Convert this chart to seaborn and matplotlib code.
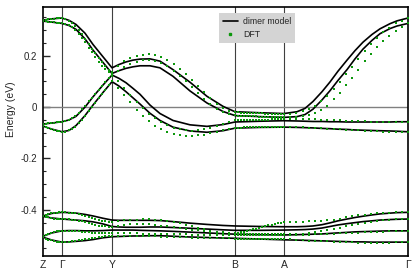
import numpy as np
import pandas as pd
import matplotlib
matplotlib.use('Agg')
import matplotlib.pyplot as plt
from matplotlib.lines import Line2D
from matplotlib.ticker import MultipleLocator
import seaborn as sns

# high-symmetry points along the path (path length units)
sym_k = [0, 19, 69, 192, 241, 365]
sym_labels = ['Z', 'Γ', 'Y', 'B', 'A', 'Γ']

# k grid for the dimer model curves
k_model = [0, 9, 19, 26, 33, 42, 50, 60, 69, 76, 83, 90, 97, 107, 117, 130, 147, 164,
           180, 192, 217, 241, 254, 262, 270, 279, 287, 295, 304, 312, 320, 329, 337,
           347, 354, 365]

model_b1 = [-0.074, -0.086, -0.096, -0.091, -0.072, -0.033, 0.008, 0.057, 0.099, 0.082,
            0.060, 0.036, 0.012, -0.024, -0.052, -0.078, -0.093, -0.098, -0.092, -0.082,
            -0.079, -0.078, -0.079, -0.080, -0.081, -0.083, -0.084, -0.086, -0.087, -0.089,
            -0.090, -0.091, -0.092, -0.093, -0.094, -0.096]
model_b2 = [-0.066, -0.062, -0.057, -0.050, -0.036, 0.000, 0.040, 0.086, 0.125, 0.112,
            0.095, 0.073, 0.050, 0.008, -0.025, -0.052, -0.069, -0.075, -0.068, -0.058,
            -0.055, -0.053, -0.054, -0.055, -0.056, -0.056, -0.057, -0.057, -0.058, -0.058,
            -0.058, -0.058, -0.058, -0.058, -0.057, -0.057]
model_b3 = [0.335, 0.331, 0.326, 0.318, 0.303, 0.266, 0.222, 0.174, 0.131, 0.142,
            0.151, 0.157, 0.161, 0.161, 0.153, 0.120, 0.063, 0.016, -0.017, -0.033,
            -0.037, -0.040, -0.037, -0.029, -0.008, 0.028, 0.064, 0.104, 0.146, 0.188,
            0.226, 0.260, 0.286, 0.306, 0.316, 0.326]
model_b4 = [0.339, 0.344, 0.347, 0.338, 0.322, 0.288, 0.244, 0.196, 0.153, 0.166,
            0.176, 0.183, 0.187, 0.188, 0.179, 0.146, 0.097, 0.042, 0.003, -0.018,
            -0.022, -0.025, -0.018, -0.005, 0.022, 0.060, 0.098, 0.140, 0.183, 0.220,
            0.253, 0.283, 0.305, 0.325, 0.336, 0.347]
model_b5 = [-0.507, -0.518, -0.526, -0.525, -0.523, -0.520, -0.516, -0.509, -0.505, -0.504,
            -0.503, -0.502, -0.502, -0.501, -0.501, -0.503, -0.506, -0.508, -0.510, -0.511,
            -0.514, -0.517, -0.518, -0.519, -0.520, -0.521, -0.522, -0.523, -0.524, -0.525,
            -0.525, -0.526, -0.526, -0.526, -0.526, -0.526]
model_b6 = [-0.503, -0.490, -0.482, -0.481, -0.481, -0.482, -0.482, -0.481, -0.479, -0.479,
            -0.479, -0.479, -0.480, -0.481, -0.482, -0.484, -0.487, -0.490, -0.493, -0.495,
            -0.497, -0.498, -0.497, -0.496, -0.495, -0.494, -0.492, -0.490, -0.488, -0.486,
            -0.485, -0.484, -0.483, -0.482, -0.482, -0.482]
model_b7 = [-0.426, -0.432, -0.436, -0.438, -0.440, -0.443, -0.447, -0.455, -0.465, -0.467,
            -0.468, -0.468, -0.468, -0.467, -0.467, -0.469, -0.472, -0.475, -0.478, -0.480,
            -0.480, -0.479, -0.478, -0.477, -0.475, -0.471, -0.465, -0.459, -0.454, -0.450,
            -0.446, -0.443, -0.440, -0.438, -0.437, -0.436]
model_b8 = [-0.424, -0.414, -0.410, -0.411, -0.413, -0.418, -0.424, -0.433, -0.440, -0.441,
            -0.441, -0.441, -0.441, -0.441, -0.442, -0.446, -0.452, -0.457, -0.461, -0.463,
            -0.465, -0.466, -0.466, -0.465, -0.463, -0.458, -0.451, -0.443, -0.436, -0.430,
            -0.425, -0.420, -0.416, -0.413, -0.411, -0.410]

# k grid of the DFT points (Z-G, G-Y, Y-B, B-A, A-G)
k_dft = [0, 3, 5, 8, 11, 14, 16, 19,
         22, 26, 29, 32, 36, 39, 42, 46, 49, 52, 56, 59, 62, 66, 69,
         75, 81, 87, 94, 100, 106, 112, 118, 124, 131, 137, 143, 149, 155, 161, 167, 174, 180, 186, 192,
         195, 198, 201, 204, 207, 210, 213, 216, 219, 222, 225, 229, 232, 235, 238, 241,
         247, 253, 260, 266, 272, 278, 284, 291, 297, 303, 309, 315, 322, 328, 334, 340, 346, 353, 359, 365]

dft_b1 = [-0.074, -0.078, -0.082, -0.086, -0.089, -0.092, -0.094, -0.096,
          -0.095, -0.091, -0.085, -0.076, -0.063, -0.049, -0.033, -0.015, 0.000, 0.016, 0.036, 0.051, 0.067, 0.085, 0.100,
          0.075, 0.048, 0.020, -0.010, -0.035, -0.055, -0.072, -0.085, -0.095, -0.103, -0.108, -0.111, -0.112, -0.110, -0.107, -0.102, -0.096, -0.090, -0.084, -0.080,
          -0.080, -0.080, -0.079, -0.079, -0.079, -0.078, -0.078, -0.078, -0.077, -0.077, -0.077, -0.076, -0.076, -0.076, -0.076, -0.076,
          -0.076, -0.077, -0.078, -0.080, -0.081, -0.083, -0.084, -0.086, -0.087, -0.089, -0.090, -0.091, -0.092, -0.093, -0.094, -0.095, -0.095, -0.096, -0.096, -0.096]
dft_b2 = [-0.066, -0.064, -0.062, -0.061, -0.060, -0.059, -0.058, -0.057,
          -0.055, -0.050, -0.043, -0.035, -0.022, -0.008, 0.005, 0.022, 0.036, 0.050, 0.068, 0.082, 0.097, 0.112, 0.122,
          0.100, 0.074, 0.048, 0.020, -0.003, -0.025, -0.043, -0.058, -0.070, -0.080, -0.087, -0.091, -0.092, -0.090, -0.086, -0.080, -0.073, -0.066, -0.058, -0.052,
          -0.052, -0.052, -0.051, -0.051, -0.051, -0.050, -0.050, -0.050, -0.049, -0.049, -0.049, -0.048, -0.048, -0.048, -0.047, -0.047,
          -0.047, -0.046, -0.046, -0.047, -0.048, -0.049, -0.050, -0.051, -0.052, -0.053, -0.054, -0.055, -0.056, -0.057, -0.057, -0.058, -0.058, -0.058, -0.058, -0.057]
dft_b3 = [0.335, 0.334, 0.332, 0.331, 0.330, 0.328, 0.327, 0.326,
          0.324, 0.318, 0.311, 0.301, 0.286, 0.271, 0.254, 0.232, 0.214, 0.197, 0.177, 0.162, 0.150, 0.136, 0.128,
          0.140, 0.156, 0.168, 0.177, 0.182, 0.183, 0.180, 0.172, 0.160, 0.142, 0.122, 0.100, 0.077, 0.055, 0.032, 0.012, -0.006, -0.018, -0.027, -0.032,
          -0.033, -0.034, -0.034, -0.035, -0.035, -0.036, -0.036, -0.037, -0.037, -0.038, -0.038, -0.039, -0.039, -0.040, -0.040, -0.040,
          -0.040, -0.039, -0.036, -0.031, -0.022, -0.010, 0.006, 0.030, 0.055, 0.085, 0.115, 0.146, 0.180, 0.208, 0.234, 0.257, 0.278, 0.298, 0.313, 0.326]
dft_b4 = [0.339, 0.341, 0.343, 0.344, 0.345, 0.346, 0.347, 0.347,
          0.344, 0.336, 0.327, 0.316, 0.300, 0.284, 0.266, 0.245, 0.226, 0.209, 0.190, 0.174, 0.160, 0.145, 0.135,
          0.162, 0.180, 0.192, 0.200, 0.204, 0.205, 0.203, 0.196, 0.185, 0.168, 0.150, 0.128, 0.105, 0.082, 0.058, 0.035, 0.013, -0.003, -0.014, -0.020,
          -0.020, -0.021, -0.021, -0.022, -0.022, -0.023, -0.023, -0.024, -0.024, -0.025, -0.025, -0.026, -0.026, -0.027, -0.027, -0.028,
          -0.027, -0.024, -0.017, -0.008, 0.005, 0.022, 0.042, 0.070, 0.098, 0.128, 0.158, 0.188, 0.220, 0.246, 0.270, 0.292, 0.310, 0.326, 0.337, 0.346]
dft_b5 = [-0.507, -0.512, -0.516, -0.519, -0.522, -0.524, -0.525, -0.526,
          -0.525, -0.524, -0.522, -0.520, -0.518, -0.516, -0.514, -0.512, -0.510, -0.508, -0.506, -0.505, -0.504, -0.503, -0.503,
          -0.503, -0.503, -0.503, -0.503, -0.503, -0.504, -0.504, -0.505, -0.505, -0.506, -0.507, -0.507, -0.508, -0.509, -0.509, -0.510, -0.510, -0.511, -0.511, -0.512,
          -0.512, -0.512, -0.512, -0.513, -0.513, -0.513, -0.513, -0.514, -0.514, -0.514, -0.514, -0.514, -0.515, -0.515, -0.515, -0.515,
          -0.515, -0.517, -0.519, -0.520, -0.521, -0.522, -0.523, -0.524, -0.525, -0.526, -0.527, -0.528, -0.528, -0.529, -0.529, -0.529, -0.528, -0.527, -0.527, -0.526]
dft_b6 = [-0.503, -0.497, -0.493, -0.489, -0.486, -0.484, -0.483, -0.482,
          -0.482, -0.482, -0.483, -0.483, -0.484, -0.485, -0.486, -0.487, -0.489, -0.490, -0.491, -0.492, -0.492, -0.492, -0.492,
          -0.492, -0.492, -0.492, -0.492, -0.493, -0.493, -0.493, -0.494, -0.494, -0.495, -0.495, -0.496, -0.497, -0.497, -0.498, -0.498, -0.499, -0.499, -0.500, -0.500,
          -0.500, -0.500, -0.500, -0.500, -0.500, -0.500, -0.500, -0.500, -0.500, -0.500, -0.500, -0.500, -0.500, -0.500, -0.500, -0.500,
          -0.500, -0.499, -0.498, -0.497, -0.496, -0.495, -0.494, -0.493, -0.492, -0.491, -0.490, -0.489, -0.488, -0.487, -0.486, -0.485, -0.484, -0.483, -0.483, -0.482]
dft_b7 = [-0.426, -0.428, -0.430, -0.432, -0.434, -0.435, -0.436, -0.436,
          -0.436, -0.437, -0.438, -0.440, -0.442, -0.445, -0.448, -0.452, -0.456, -0.459, -0.462, -0.464, -0.465, -0.466, -0.466,
          -0.462, -0.459, -0.457, -0.456, -0.456, -0.457, -0.459, -0.462, -0.465, -0.468, -0.471, -0.474, -0.477, -0.480, -0.483, -0.486, -0.489, -0.492, -0.494, -0.495,
          -0.495, -0.495, -0.495, -0.495, -0.495, -0.494, -0.494, -0.494, -0.494, -0.494, -0.494, -0.494, -0.494, -0.494, -0.494, -0.494,
          -0.494, -0.494, -0.493, -0.491, -0.488, -0.484, -0.480, -0.475, -0.470, -0.465, -0.460, -0.455, -0.450, -0.446, -0.443, -0.441, -0.439, -0.437, -0.436, -0.436]
dft_b8 = [-0.424, -0.420, -0.417, -0.414, -0.412, -0.411, -0.410, -0.410,
          -0.410, -0.411, -0.412, -0.414, -0.417, -0.420, -0.423, -0.427, -0.431, -0.435, -0.439, -0.442, -0.444, -0.446, -0.447,
          -0.445, -0.441, -0.439, -0.438, -0.437, -0.437, -0.438, -0.440, -0.443, -0.447, -0.452, -0.458, -0.464, -0.470, -0.476, -0.481, -0.485, -0.488, -0.490, -0.490,
          -0.489, -0.487, -0.485, -0.482, -0.479, -0.476, -0.473, -0.470, -0.467, -0.464, -0.461, -0.458, -0.455, -0.453, -0.451, -0.449,
          -0.448, -0.447, -0.446, -0.445, -0.444, -0.443, -0.441, -0.438, -0.434, -0.430, -0.426, -0.422, -0.419, -0.416, -0.414, -0.412, -0.411, -0.410, -0.410, -0.410]

model_bands = [model_b1, model_b2, model_b3, model_b4, model_b5, model_b6, model_b7, model_b8]
dft_bands = [dft_b1, dft_b2, dft_b3, dft_b4, dft_b5, dft_b6, dft_b7, dft_b8]

model_df = pd.concat([pd.DataFrame({'k': k_model, 'E': b, 'band': i})
                      for i, b in enumerate(model_bands)], ignore_index=True)
dft_df = pd.concat([pd.DataFrame({'k': k_dft, 'E': b, 'band': i})
                    for i, b in enumerate(dft_bands)], ignore_index=True)

sns.set_style('ticks')
plt.rcParams['font.family'] = ['Liberation Sans', 'DejaVu Sans']
plt.rcParams['axes.unicode_minus'] = False

green = '#0c980c'

fig = plt.figure(figsize=(4.15, 2.78), dpi=100)
ax = fig.add_axes([43 / 415, 1 - 256 / 278, 365 / 415, 249 / 278])

for k in sym_k[1:-1]:
    ax.axvline(k, color='0.25', lw=0.8, zorder=1)
ax.axhline(0, color='0.5', lw=1.0, zorder=1)

sns.lineplot(data=model_df, x='k', y='E', units='band', estimator=None, sort=False,
             color='black', lw=1.2, ax=ax, zorder=2, legend=False)
sns.scatterplot(data=dft_df, x='k', y='E', color=green, marker='s', s=3.5,
                linewidth=0, ax=ax, zorder=3, legend=False)

ax.set_xlim(0, 365)
ax.set_ylim(-0.58, 0.39)
ax.set_xticks(sym_k)
ax.set_xticklabels(sym_labels, fontsize=7.5)
ax.tick_params(axis='x', length=0, pad=3)
ax.yaxis.set_minor_locator(MultipleLocator(0.05))
ax.set_yticks([-0.4, -0.2, 0, 0.2])
ax.set_yticklabels(['-0.4', '-0.2', '0', '0.2'], fontsize=7)
ax.tick_params(axis='y', which='major', direction='in', length=5, width=1, pad=4)
ax.tick_params(axis='y', which='minor', direction='in', length=2.5, width=0.8)
ax.set_xlabel('')
ax.set_ylabel('Energy (eV)', fontsize=7.5)
ax.yaxis.set_label_coords(-0.075, 0.59)
for s in ax.spines.values():
    s.set_linewidth(1.2)
    s.set_color('black')

handles = [Line2D([], [], color='black', lw=1.2),
           Line2D([], [], color=green, marker='s', ms=2, ls='none')]
leg = ax.legend(handles, ['dimer model', 'DFT'], loc='upper left',
                bbox_to_anchor=(0.482, 0.976), borderaxespad=0, fontsize=6.3,
                frameon=True, fancybox=False, handlelength=1.7, handletextpad=0.6,
                borderpad=0.45, labelspacing=0.45)
leg.get_frame().set_facecolor('#d4d4d4')
leg.get_frame().set_edgecolor('none')
leg.get_frame().set_alpha(1)

fig.savefig('out.png', dpi=100)
